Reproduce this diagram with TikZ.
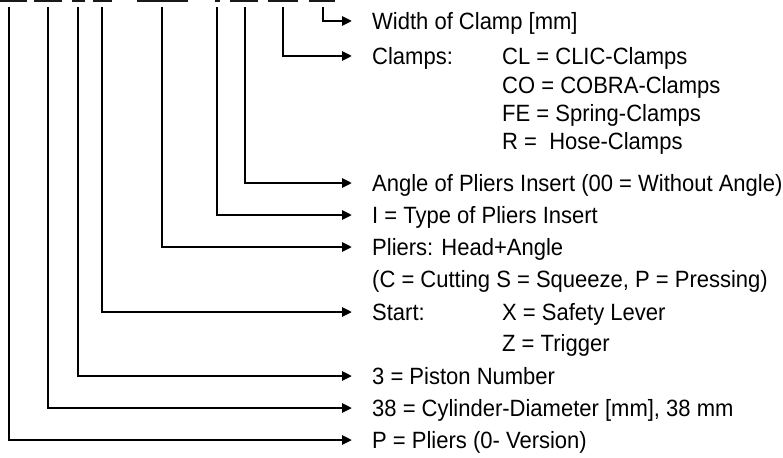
\documentclass[tikz,border=0pt]{standalone}
\usepackage{fontspec}
\setmainfont{Liberation Sans}
\usetikzlibrary{arrows.meta}
\newcommand{\Tx}[1]{\scalebox{1}[1.07]{#1}}
\tikzset{
  conn/.style={line width=2.8pt, line cap=butt, -{Triangle[length=10pt,width=9pt]}, shorten >=20pt},
  lbl/.style={anchor=west, inner sep=0pt, text height=16.8pt, text depth=0pt, font=\fontsize{22}{26}\selectfont},
  bar/.style={fill=black!90}
}
\begin{document}
\begin{tikzpicture}[x=1pt,y=-1pt]
\useasboundingbox (0,0) rectangle (783,457);
% cut-off underlines of the code at the top
\foreach \a/\b in {0/27,34/62,72/85,93/112,137/188,215/220,230/258,268/298,309/335}
  \fill[bar] (\a,-3) rectangle (\b,1.6);
% start points
\coordinate (s1) at (9,7);
\coordinate (s2) at (48,7);
\coordinate (s3) at (78,7);
\coordinate (s4) at (102,7);
\coordinate (s5) at (162,7);
\coordinate (s6) at (217,7);
\coordinate (s7) at (245,7);
\coordinate (s8) at (283,7);
\coordinate (s9) at (323,7);
% labels
\node[lbl] (t9) at (372,21) {\Tx{Width of Clamp [mm]}};
\node[lbl] (t8) at (372,56) {\Tx{Clamps:}};
\node[lbl] (c1) at (502,56) {\Tx{CL = CLIC-Clamps}};
\node[lbl] (c2) at (502,85) {\Tx{CO = COBRA-Clamps}};
\node[lbl] (c3) at (502,113) {\Tx{FE = Spring-Clamps}};
\node[lbl] (c4) at (502,141) {\Tx{R =\ \ Hose-Clamps}};
\node[lbl] (t7) at (372,183) {\Tx{Angle of Pliers Insert (00 = Without Angle)}};
\node[lbl] (t6) at (372,215) {\Tx{I = Type of Pliers Insert}};
\node[lbl] (t5) at (372,247) {\Tx{Pliers: Head+Angle}};
\node[lbl] (t5b) at (372,279) {\Tx{(C = Cutting S = Squeeze, P = Pressing)}};
\node[lbl] (t4) at (372,312) {\Tx{Start:}};
\node[lbl] (x1) at (502,312) {\Tx{X = Safety Lever}};
\node[lbl] (x2) at (502,343) {\Tx{Z = Trigger}};
\node[lbl] (t3) at (372,376) {\Tx{3 = Piston Number}};
\node[lbl] (t2) at (372,408) {\Tx{38 = Cylinder-Diameter [mm], 38 mm}};
\node[lbl] (t1) at (372,440) {\Tx{P = Pliers (0- Version)}};
% connectors
\foreach \i in {1,...,9}
  \draw[conn] (s\i) |- (t\i.west);
\end{tikzpicture}
\end{document}
